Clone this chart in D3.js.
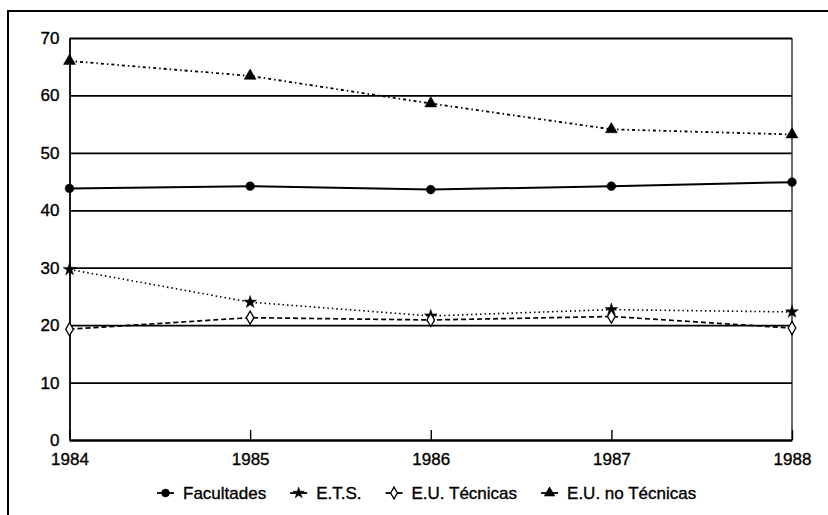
<!DOCTYPE html>
<html>
<head>
<meta charset="utf-8">
<script src="https://cdn.jsdelivr.net/npm/d3@7"></script>
<style>
  html, body { margin: 0; padding: 0; background: #fff; }
  svg { display: block; font-family: "Liberation Sans", Arial, sans-serif; }
  svg text { stroke: #000; stroke-width: 0.35px; fill: #000; }
</style>
</head>
<body>
<svg id="chart" width="828" height="515"></svg>
<script>
const years = ["1984", "1985", "1986", "1987", "1988"];
const yTicks = [0, 10, 20, 30, 40, 50, 60, 70];

const facultades = [43.8, 44.2, 43.6, 44.2, 44.9];
const ets = [29.7, 24.0, 21.6, 22.7, 22.3];
const euTecnicas = [19.3, 21.3, 20.9, 21.5, 19.5];
const euNoTecnicas = [66.0, 63.4, 58.6, 54.1, 53.2];

const seriesNames = ["Facultades", "E.T.S.", "E.U. Técnicas", "E.U. no Técnicas"];

const width = 828;
const height = 515;
const margin = { top: 38, right: 36, bottom: 75, left: 69.5 };

const svg = d3.select("#chart");

// outer frame (left + top only, like the scan)
svg.append("path")
  .attr("d", "M8,515 L8,11 L828,11")
  .attr("fill", "none")
  .attr("stroke", "#000")
  .attr("stroke-width", 2);

const x = d3.scalePoint()
  .domain(years)
  .range([margin.left, width - margin.right]);

const y = d3.scaleLinear()
  .domain([0, 70])
  .range([height - margin.bottom, margin.top]);

const plotW = x.range()[1] - x.range()[0];

// gridlines + y labels
const yAxis = svg.append("g")
  .attr("transform", `translate(${margin.left},0)`)
  .call(d3.axisLeft(y).tickValues(yTicks).tickSize(-plotW).tickSizeOuter(0).tickPadding(10));
yAxis.select(".domain").attr("stroke-width", 1.8);
yAxis.selectAll(".tick line").attr("stroke-width", 1.8);
yAxis.selectAll("text").attr("font-size", 17);

// right border at last year
svg.append("line")
  .attr("x1", x(years[4])).attr("x2", x(years[4]))
  .attr("y1", y(70)).attr("y2", y(0))
  .attr("stroke", "#000")
  .attr("stroke-width", 1.2);

const xAxis = svg.append("g")
  .attr("transform", `translate(0,${y(0)})`)
  .call(d3.axisBottom(x).tickSize(-10).tickSizeOuter(0).tickPadding(13));
xAxis.select(".domain").attr("stroke-width", 1.8);
xAxis.selectAll(".tick line").attr("stroke-width", 1.4);
xAxis.selectAll("text").attr("font-size", 17);

const series = [
  { name: seriesNames[0], values: facultades, dash: null, width: 2, symbol: d3.symbolCircle, size: 60, fill: "#000" },
  { name: seriesNames[1], values: ets, dash: "1.5,3", width: 1.6, symbol: d3.symbolStar, size: 50, fill: "#000" },
  { name: seriesNames[2], values: euTecnicas, dash: "5,3", width: 1.7, symbol: d3.symbolDiamond, size: 50, fill: "#fff" },
  { name: seriesNames[3], values: euNoTecnicas, dash: "3,3,1.5,3", width: 1.8, symbol: d3.symbolTriangle, size: 62, fill: "#000" }
];

const line = d3.line()
  .x((d, i) => x(years[i]))
  .y(d => y(d));

series.forEach(s => {
  svg.append("path")
    .attr("d", line(s.values))
    .attr("fill", "none")
    .attr("stroke", "#000")
    .attr("stroke-width", s.width)
    .attr("stroke-dasharray", s.dash);

  svg.selectAll(null)
    .data(s.values)
    .enter()
    .append("path")
    .attr("transform", (d, i) => `translate(${x(years[i])},${y(d)})`)
    .attr("d", d3.symbol(s.symbol, s.size))
    .attr("fill", s.fill)
    .attr("stroke", "#000")
    .attr("stroke-width", s.fill === "#fff" ? 1.3 : 0.5);
});

// legend
const legend = svg.append("g").attr("transform", "translate(157,493)");
let lx = 0;
series.forEach(s => {
  const item = legend.append("g").attr("transform", `translate(${lx},0)`);
  item.append("line")
    .attr("x1", 0).attr("x2", 17)
    .attr("stroke", "#000")
    .attr("stroke-width", 1.8);
  item.append("path")
    .attr("transform", "translate(8.5,0)")
    .attr("d", d3.symbol(s.symbol, s.size * 0.8))
    .attr("fill", s.fill)
    .attr("stroke", "#000")
    .attr("stroke-width", s.fill === "#fff" ? 1.3 : 0.5);
  const t = item.append("text")
    .attr("x", 26)
    .attr("dy", "0.35em")
    .attr("font-size", 17)
    .text(s.name);
  lx += 26 + t.node().getComputedTextLength() + 24;
});
</script>
</body>
</html>
